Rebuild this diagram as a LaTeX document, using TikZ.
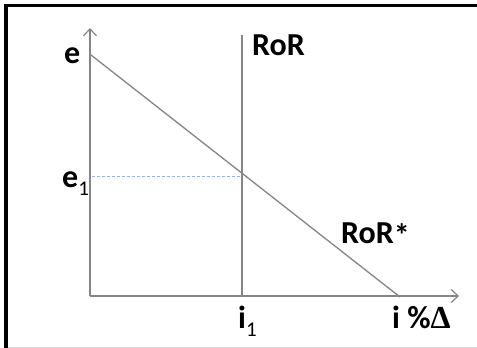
\documentclass[tikz,border=0pt]{standalone}
\usepackage{fontspec}
\setmainfont{Carlito}
\newfontfamily\deltafont{Liberation Serif}
\usetikzlibrary{arrows.meta}
\definecolor{axisgray}{HTML}{858585}
\definecolor{dashblue}{HTML}{8FB4E3}
\tikzset{
  axisline/.style={draw=axisgray, line width=1.4pt, -{Straight Barb[length=7pt,width=13pt,line width=1.2pt]}},
  curveline/.style={draw=axisgray, line width=1.3pt},
  guideline/.style={draw=dashblue, line width=1pt, dash pattern=on 3pt off 2pt},
  lbl/.style={font=\fontsize{32}{32}\selectfont\bfseries, anchor=base west, inner sep=0pt},
}
\newcommand{\subone}{\raisebox{-0.25em}{\fontsize{21}{21}\selectfont\mdseries 1}}
\begin{document}
\begin{tikzpicture}[x=1pt,y=-1pt]
\useasboundingbox (0,0) rectangle (477,348);
\fill[white] (0,0) rectangle (477,348);
% frame
\draw[black, line width=3.5pt] (6,348) -- (6,5.5) -- (477,5.5);
\draw[black!15, line width=1pt] (8,347) -- (477,347);
% coordinates
\coordinate (O) at (90,296);
\coordinate (ytop) at (90,28);
\coordinate (xend) at (459,296);
\coordinate (rorT) at (242,35);
\coordinate (rorB) at (242,296);
\coordinate (starA) at (91,55);
\coordinate (starB) at (400,297);
\coordinate (X) at (242,176);
\coordinate (eone) at (92,176);
% guide
\draw[guideline] (eone) -- (X);
% axes
\draw[axisline] (O) -- (ytop);
\draw[axisline] (O) -- (xend);
% curves
\draw[curveline] (rorT) -- (rorB);
\draw[curveline] (starA) -- (starB);
% labels
\node[lbl] (le) at (64,63) {e};
\node[lbl] (le1) at (62,187) {e\subone};
\node[lbl] (lror) at (252,55) {RoR};
\node[lbl] (lrors) at (341,243) {RoR\raisebox{-0.12em}{*}};
\node[lbl] (li1) at (238,328) {i\subone};
\node[lbl] (lix) at (392,328) {i \%{\deltafont Δ}};
\end{tikzpicture}
\end{document}
